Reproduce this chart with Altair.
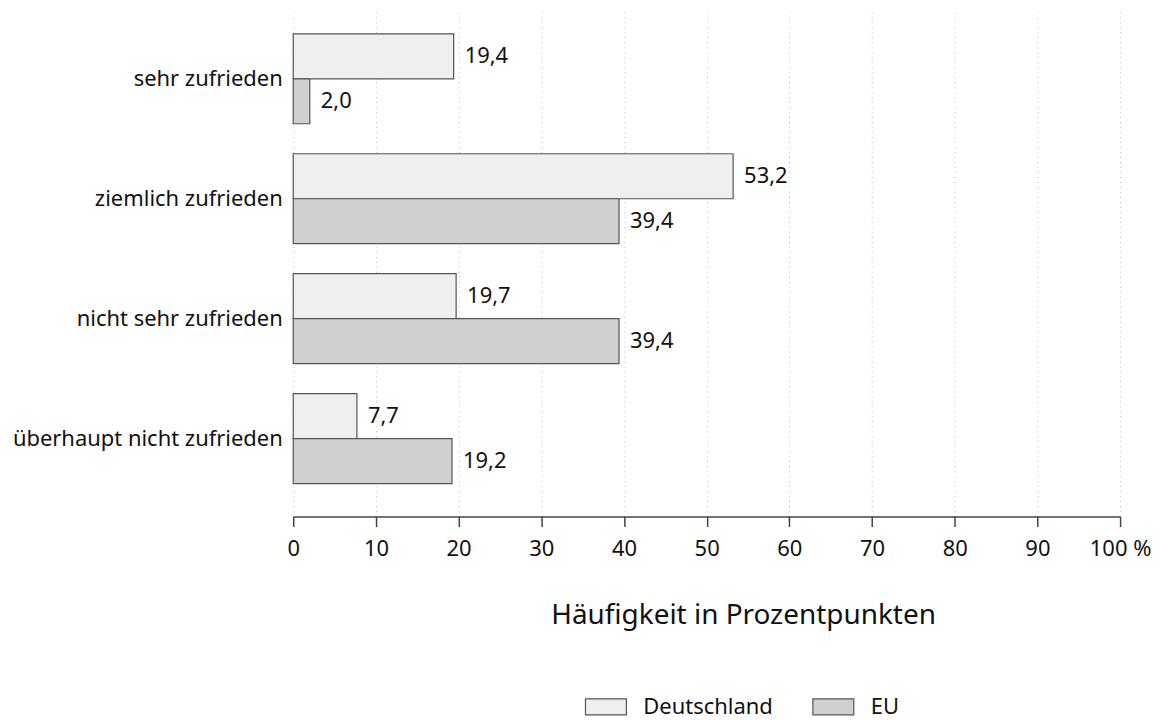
import altair as alt
import pandas as pd

categories = ["sehr zufrieden", "ziemlich zufrieden", "nicht sehr zufrieden", "überhaupt nicht zufrieden"]
series = ["Deutschland", "EU"]
deutschland = [19.4, 53.2, 19.7, 7.7]
eu = [2.0, 39.4, 39.4, 19.2]
x_ticks = [0, 10, 20, 30, 40, 50, 60, 70, 80, 90, 100]

rows = []
for c, d, e in zip(categories, deutschland, eu):
    rows.append({"Kategorie": c, "Region": "Deutschland", "Wert": d, "Label": f"{d:.1f}".replace(".", ",")})
    rows.append({"Kategorie": c, "Region": "EU", "Wert": e, "Label": f"{e:.1f}".replace(".", ",")})
df = pd.DataFrame(rows)

FONT = "Noto Sans"
FS = 22

y_enc = alt.Y("Kategorie:N", sort=categories, title=None,
              scale=alt.Scale(paddingInner=0.25, paddingOuter=0.241, align=0.43),
              axis=alt.Axis(ticks=False, domain=False, labelPadding=11, labelFontSize=FS,
                            labelColor="#111", labelFont=FONT, labelLimit=400))
yoff = alt.YOffset("Region:N", sort=series, scale=alt.Scale(paddingInner=0, paddingOuter=0))

bars = alt.Chart(df).mark_bar(stroke="#555555", strokeWidth=1.2).encode(
    x=alt.X("Wert:Q", scale=alt.Scale(domain=[0, 100], nice=False),
            title="Häufigkeit in Prozentpunkten",
            axis=alt.Axis(values=x_ticks, labelExpr="datum.value == 100 ? '100 %' : datum.label",
                          labelFlush=False, labelOverlap=False,
                          grid=True, gridDash=[1, 4], gridColor="#bbbbbb", gridWidth=1,
                          domainColor="#444", domainWidth=1.5, tickColor="#444", tickWidth=1.5,
                          tickSize=10, labelFontSize=FS, labelColor="#111", labelFont=FONT,
                          labelPadding=12, titleFontSize=28, titleFont=FONT, titleFontWeight="normal",
                          titleColor="#111", titlePadding=42, titleX=451, titleAlign="center")),
    y=y_enc,
    yOffset=yoff,
    color=alt.Color("Region:N", sort=series,
                    scale=alt.Scale(domain=series, range=["#efefef", "#d0d0d0"]),
                    legend=alt.Legend(title=None, orient="none", legendX=292, legendY=678,
                                      direction="horizontal", symbolType="M-1,-0.39L1,-0.39L1,0.39L-1,0.39Z",
                                      symbolSize=1681, symbolStrokeColor="#555", symbolStrokeWidth=1.2,
                                      labelFontSize=FS, labelFont=FONT, labelColor="#111",
                                      columnPadding=37, labelOffset=16, symbolOpacity=1)),
)

labels = alt.Chart(df).mark_text(align="left", baseline="middle", dx=11, fontSize=FS,
                                 font=FONT, color="#111").encode(
    x="Wert:Q", y=alt.Y("Kategorie:N", sort=categories), yOffset=yoff, text="Label:N")

chart = alt.layer(bars, labels).properties(
    width=829, height=509,
    padding={"left": 4, "top": 0, "right": 0, "bottom": 0},
).configure_view(stroke=None)

chart.save("out.html", embed_options={"renderer": "svg", "actions": False})
